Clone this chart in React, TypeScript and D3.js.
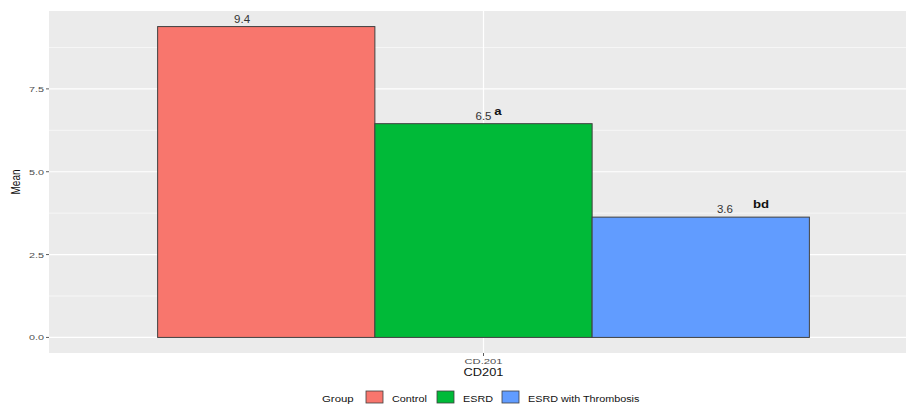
import React from "react";
import * as d3 from "d3";

const groups = ["Control", "ESRD", "ESRD with Thrombosis"];
const means = [9.38, 6.45, 3.63];
const valueLabels = ["9.4", "6.5", "3.6"];
const sigLetters = ["", "a", "bd"];
const letterNudge = [0, 0.02, 0.05];
const colors = ["#F8766D", "#00BA38", "#619CFF"];
const category = "CD.201";
const yTicks = [0, 2.5, 5, 7.5];
const yMinor = [1.25, 3.75, 6.25, 8.75];

const W = 906;
const H = 405;
const panel = { left: 49, top: 11, bottom: 353 };
const font = "'Liberation Sans', Arial, Helvetica, sans-serif";

function Txt(props: {
  x: number;
  y: number;
  sx?: number;
  size: number;
  anchor?: string;
  fill?: string;
  weight?: string;
  children: React.ReactNode;
}) {
  const { x, y, sx = 1, size, anchor = "start", fill = "#111", weight = "normal", children } = props;
  return (
    <text
      transform={`translate(${x},${y}) scale(${sx},1)`}
      textAnchor={anchor}
      fontFamily={font}
      fontSize={size}
      fontWeight={weight}
      fill={fill}
    >
      {children}
    </text>
  );
}

export default function App() {
  const x = d3.scaleLinear().domain([0.4, 1.6]).range([panel.left, panel.left + 869]);
  const y = d3.scaleLinear().domain([-0.47, 9.85]).range([panel.bottom, panel.top]);
  const n = groups.length;
  const barW = 0.9 / n;
  const barX = (i: number) => 1 - 0.45 + i * barW;
  const labelX = (i: number) => 1 + (i - 1) / 3;
  const keyX = [366, 437, 502];

  return (
    <svg width={W} height={H} style={{ position: "absolute", left: 0, top: 0, background: "#fff" }}>
      <rect x={x(0.4)} y={panel.top} width={x(1.6) - x(0.4)} height={panel.bottom - panel.top} fill="#EBEBEB" />
      {yMinor.map((t) => (
        <line key={"m" + t} x1={x(0.4)} x2={x(1.6)} y1={y(t)} y2={y(t)} stroke="#fff" strokeWidth={0.6} />
      ))}
      {yTicks.map((t) => (
        <line key={"g" + t} x1={x(0.4)} x2={x(1.6)} y1={y(t)} y2={y(t)} stroke="#fff" strokeWidth={1.2} />
      ))}
      <line x1={x(1)} x2={x(1)} y1={panel.top} y2={panel.bottom} stroke="#fff" strokeWidth={1.2} />
      {means.map((m, i) => (
        <rect
          key={groups[i]}
          x={x(barX(i))}
          y={y(m)}
          width={x(barX(i) + barW) - x(barX(i))}
          height={y(0) - y(m)}
          fill={colors[i]}
          stroke="#404040"
          strokeWidth={1}
        />
      ))}
      {means.map((m, i) => (
        <Txt key={"v" + i} x={x(labelX(i))} y={y(m) - 4} anchor="middle" size={10} sx={1.15} fill="#333">
          {valueLabels[i]}
        </Txt>
      ))}
      {means.map((m, i) =>
        sigLetters[i] ? (
          <Txt key={"s" + i} x={x(labelX(i) + letterNudge[i])} y={y(m) - 9} anchor="middle" size={11} sx={1.2} weight="bold">
            {sigLetters[i]}
          </Txt>
        ) : null
      )}
      {yTicks.map((t) => (
        <g key={"t" + t}>
          <line x1={panel.left - 3} x2={panel.left} y1={y(t)} y2={y(t)} stroke="#333" strokeWidth={0.8} />
          <Txt x={panel.left - 5} y={y(t) + 3} anchor="end" size={8} sx={1.35} fill="#4D4D4D">
            {d3.format(".1f")(t)}
          </Txt>
        </g>
      ))}
      <line x1={x(1)} x2={x(1)} y1={panel.bottom} y2={panel.bottom + 3} stroke="#333" strokeWidth={0.8} />
      <Txt x={x(1)} y={364} anchor="middle" size={8} sx={1.4} fill="#4D4D4D">
        {category}
      </Txt>
      <Txt x={x(1)} y={376} anchor="middle" size={10} sx={1.28}>
        CD201
      </Txt>
      <text
        transform={`translate(20,${(panel.top + panel.bottom) / 2}) rotate(-90) scale(1,1.2)`}
        textAnchor="middle"
        fontFamily={font}
        fontSize={10}
        fill="#111"
      >
        Mean
      </text>
      <Txt x={322} y={402} size={9.5} sx={1.2}>Group</Txt>
      {groups.map((g, i) => (
        <g key={"l" + g}>
          <rect x={keyX[i]} y={391} width={17} height={12} fill={colors[i]} stroke="#404040" strokeWidth={0.8} />
          <Txt x={keyX[i] + 26} y={401.5} size={9} sx={1.2}>{g}</Txt>
        </g>
      ))}
    </svg>
  );
}
